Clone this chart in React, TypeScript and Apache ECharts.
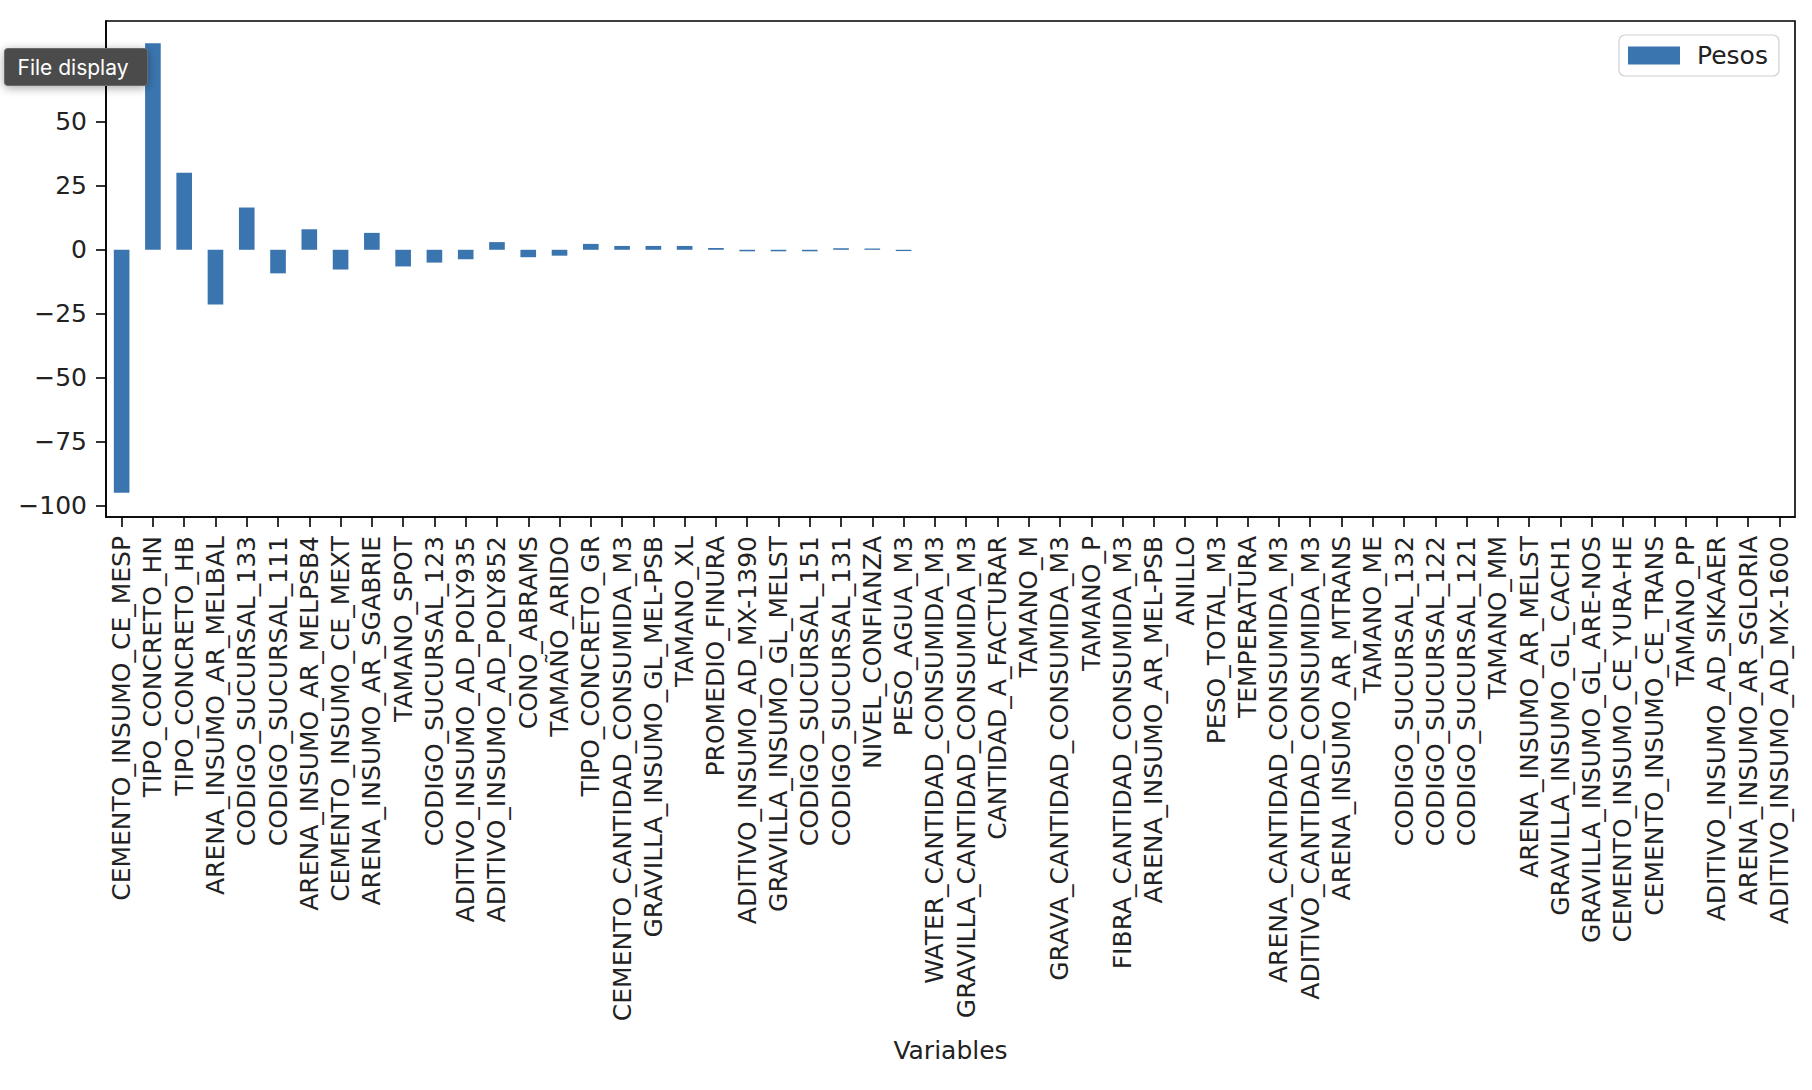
import React, { useEffect, useRef } from "react";
import * as echarts from "echarts";

const categories: string[] = [
  "CEMENTO_INSUMO_CE_MESP",
  "TIPO_CONCRETO_HN",
  "TIPO_CONCRETO_HB",
  "ARENA_INSUMO_AR_MELBAL",
  "CODIGO_SUCURSAL_133",
  "CODIGO_SUCURSAL_111",
  "ARENA_INSUMO_AR_MELPSB4",
  "CEMENTO_INSUMO_CE_MEXT",
  "ARENA_INSUMO_AR_SGABRIE",
  "TAMANO_SPOT",
  "CODIGO_SUCURSAL_123",
  "ADITIVO_INSUMO_AD_POLY935",
  "ADITIVO_INSUMO_AD_POLY852",
  "CONO_ABRAMS",
  "TAMAÑO_ARIDO",
  "TIPO_CONCRETO_GR",
  "CEMENTO_CANTIDAD_CONSUMIDA_M3",
  "GRAVILLA_INSUMO_GL_MEL-PSB",
  "TAMANO_XL",
  "PROMEDIO_FINURA",
  "ADITIVO_INSUMO_AD_MX-1390",
  "GRAVILLA_INSUMO_GL_MELST",
  "CODIGO_SUCURSAL_151",
  "CODIGO_SUCURSAL_131",
  "NIVEL_CONFIANZA",
  "PESO_AGUA_M3",
  "WATER_CANTIDAD_CONSUMIDA_M3",
  "GRAVILLA_CANTIDAD_CONSUMIDA_M3",
  "CANTIDAD_A_FACTURAR",
  "TAMANO_M",
  "GRAVA_CANTIDAD_CONSUMIDA_M3",
  "TAMANO_P",
  "FIBRA_CANTIDAD_CONSUMIDA_M3",
  "ARENA_INSUMO_AR_MEL-PSB",
  "ANILLO",
  "PESO_TOTAL_M3",
  "TEMPERATURA",
  "ARENA_CANTIDAD_CONSUMIDA_M3",
  "ADITIVO_CANTIDAD_CONSUMIDA_M3",
  "ARENA_INSUMO_AR_MTRANS",
  "TAMANO_ME",
  "CODIGO_SUCURSAL_132",
  "CODIGO_SUCURSAL_122",
  "CODIGO_SUCURSAL_121",
  "TAMANO_MM",
  "ARENA_INSUMO_AR_MELST",
  "GRAVILLA_INSUMO_GL_CACH1",
  "GRAVILLA_INSUMO_GL_ARE-NOS",
  "CEMENTO_INSUMO_CE_YURA-HE",
  "CEMENTO_INSUMO_CE_TRANS",
  "TAMANO_PP",
  "ADITIVO_INSUMO_AD_SIKAAER",
  "ARENA_INSUMO_AR_SGLORIA",
  "ADITIVO_INSUMO_AD_MX-1600",
];

const pesos: number[] = [
  -94.8, 80.6, 30.1, -21.4, 16.5, -9.2, 8.0, -7.7, 6.6, -6.5,
  -5.0, -3.7, 3.0, -2.9, -2.3, 2.3, 1.5, 1.5, 1.5, 0.7,
  -0.6, -0.6, -0.6, 0.6, 0.5, -0.5, 0, 0, 0, 0,
  0, 0, 0, 0, 0, 0, 0, 0, 0, 0,
  0, 0, 0, 0, 0, 0, 0, 0, 0, 0,
  0, 0, 0, 0,
];

// all y ticks; the 75 label sits under the "File display" overlay in the reference
const yTicks: number[] = [-100, -75, -50, -25, 0, 25, 50, 75];
const yTickLabels: number[] = [-100, -75, -50, -25, 0, 25, 50];
const seriesName = "Pesos";
const xAxisTitle = "Variables";
const overlayText = "File display";

const FONT = "DejaVu Sans";
const BAR_COLOR = "#3b75af";

export default function App() {
  const ref = useRef<HTMLDivElement>(null);

  useEffect(() => {
    if (!ref.current) return;
    const chart = echarts.init(ref.current, null, { renderer: "svg" });
    chart.setOption({
      animation: false,
      backgroundColor: "#ffffff",
      textStyle: { fontFamily: FONT },
      grid: {
        left: 106,
        right: 17,
        top: 21,
        bottom: 573,
        show: true,
        borderColor: "#000",
        borderWidth: 1.6,
        containLabel: false,
      },
      legend: {
        show: true,
        left: 1619,
        top: 35,
        orient: "horizontal",
        itemWidth: 52,
        itemHeight: 18,
        itemGap: 10,
        padding: [8, 11, 8, 9],
        borderColor: "#d0d0d0",
        borderWidth: 1.2,
        borderRadius: 6,
        backgroundColor: "rgba(255,255,255,0.85)",
        textStyle: { fontFamily: FONT, fontSize: 25, color: "#222", padding: [0, 0, 0, 12] },
        data: [{ name: seriesName, icon: "rect" }],
      },
      xAxis: {
        type: "category",
        data: categories,
        boundaryGap: true,
        name: xAxisTitle,
        nameLocation: "middle",
        nameGap: 521,
        nameTextStyle: { fontFamily: FONT, fontSize: 25, color: "#222" },
        axisLine: { show: true, onZero: false, lineStyle: { color: "#000", width: 1.6 } },
        axisTick: {
          show: true,
          alignWithLabel: true,
          inside: false,
          length: 10,
          interval: 0,
          lineStyle: { color: "#000", width: 1.6 },
        },
        axisLabel: {
          interval: 0,
          rotate: 90,
          margin: 19,
          fontFamily: FONT,
          fontSize: 25,
          color: "#222",
        },
        splitLine: { show: false },
      },
      yAxis: {
        type: "value",
        min: -104.3,
        max: 89.3,
        axisLine: { show: true, lineStyle: { color: "#000", width: 1.6 } },
        axisTick: {
          show: true,
          inside: false,
          length: 10,
          customValues: yTicks,
          lineStyle: { color: "#000", width: 1.6 },
        },
        axisLabel: {
          customValues: yTickLabels,
          margin: 19,
          fontFamily: FONT,
          fontSize: 25,
          color: "#222",
          formatter: (v: number) => String(v).replace("-", "\u2212"),
        },
        splitLine: { show: false },
      },
      series: [
        {
          name: seriesName,
          type: "bar",
          data: pesos,
          barWidth: "50%",
          itemStyle: { color: BAR_COLOR },
        },
      ],
      graphic: [
        {
          type: "group",
          left: 4,
          top: 48,
          z: 100,
          children: [
            {
              type: "rect",
              shape: { x: 0, y: 0, width: 143, height: 37, r: 3 },
              style: {
                fill: "#4b4b4b",
                stroke: "#6a6a6a",
                lineWidth: 1,
                shadowBlur: 10,
                shadowColor: "rgba(0,0,0,0.35)",
                shadowOffsetY: 2,
              },
              z: 100,
            },
            {
              type: "text",
              x: 13,
              y: 18.5,
              style: {
                text: overlayText,
                fill: "#ffffff",
                fontFamily: "Inter",
                fontSize: 21,
                textVerticalAlign: "middle",
                textAlign: "left",
              },
              z: 101,
            },
          ],
        },
      ],
    });
    return () => chart.dispose();
  }, []);

  return (
    <div
      ref={ref}
      style={{ position: "fixed", left: 0, top: 0, width: 1812, height: 1090, background: "#fff" }}
    />
  );
}
